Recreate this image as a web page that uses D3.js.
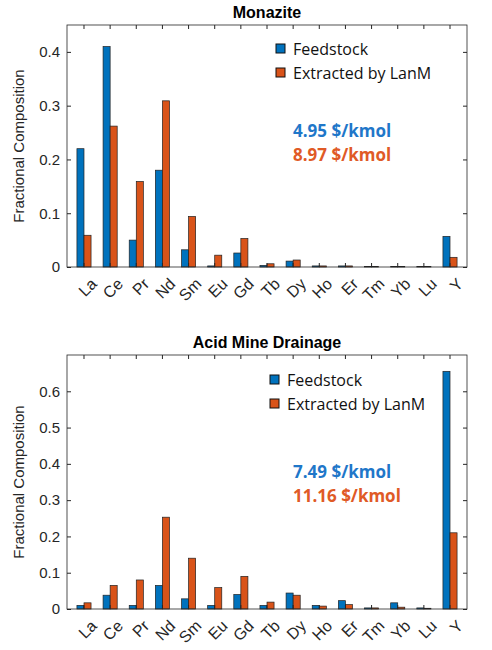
<!DOCTYPE html>
<html><head><meta charset="utf-8">
<script src="https://cdn.jsdelivr.net/npm/d3@7"></script>
<style>body{margin:0;background:#fff}</style>
</head><body><div id="chart"></div>
<script>
const elements = ["La","Ce","Pr","Nd","Sm","Eu","Gd","Tb","Dy","Ho","Er","Tm","Yb","Lu","Y"];
const seriesNames = ["Feedstock", "Extracted by LanM"];
const monaziteFeed = [0.22,0.41,0.05,0.18,0.032,0.002,0.026,0.003,0.011,0.002,0.002,0.001,0.001,0.001,0.057];
const monaziteExtr = [0.059,0.262,0.159,0.309,0.094,0.022,0.053,0.006,0.013,0.002,0.002,0.001,0.001,0.001,0.018];
const amdFeed = [0.01,0.038,0.01,0.065,0.028,0.01,0.04,0.01,0.044,0.01,0.023,0.003,0.017,0.003,0.655];
const amdExtr = [0.017,0.065,0.08,0.253,0.14,0.059,0.09,0.019,0.038,0.008,0.012,0.003,0.005,0.002,0.21];
const monaziteTicks = [0, 0.1, 0.2, 0.3, 0.4];
const amdTicks = [0, 0.1, 0.2, 0.3, 0.4, 0.5, 0.6];
const monaziteCost = ["4.95 $/kmol", "8.97 $/kmol"];
const amdCost = ["7.49 $/kmol", "11.16 $/kmol"];

const colors = ["#0072BD", "#D95319"];
const textColors = ["#1f77c9", "#e05a26"];
const font = "Liberation Sans, Arial, sans-serif";

const svg = d3.select("#chart").append("svg").attr("width", 492).attr("height", 650);

// Draw one panel of the figure
const drawPanel = (opt) => {
    const { title, feed, extr, ticks, yMax, cost, top, bottom, legendX, legendY, costY } = opt;
    const left = 67, right = 467;
    const x = d3.scaleBand().domain(elements).range([left, right]).paddingInner(0.46).paddingOuter(0.38);
    const sub = d3.scaleBand().domain([0, 1]).range([0, x.bandwidth()]).padding(0);
    const y = d3.scaleLinear().domain([0, yMax]).range([bottom, top]);
    const g = svg.append("g");

    g.append("text").attr("x", (left + right) / 2).attr("y", top - 7).attr("text-anchor", "middle")
        .attr("font-family", font).attr("font-weight", "bold").attr("font-size", 16).text(title);

    // bars
    [feed, extr].forEach((vals, s) => {
        g.append("g").selectAll("rect").data(vals).join("rect")
            .attr("x", (d, i) => x(elements[i]) + sub(s))
            .attr("width", sub.bandwidth())
            .attr("y", d => y(d))
            .attr("height", d => bottom - y(d))
            .attr("fill", colors[s]).attr("stroke", "#222").attr("stroke-width", 0.7);
    });

    // y axis
    const ya = g.append("g").attr("transform", `translate(${left},0)`)
        .call(d3.axisLeft(y).tickValues(ticks).tickSize(-4).tickPadding(7).tickFormat(d3.format("~g")));
    ya.select(".domain").remove();
    ya.selectAll("text").attr("font-family", font).attr("font-size", 15).attr("fill", "#262626");
    ya.selectAll("line").attr("stroke", "#262626");
    g.append("g").attr("transform", `translate(${right},0)`)
        .call(d3.axisRight(y).tickValues(ticks).tickSize(-4).tickFormat(""))
        .call(a => a.select(".domain").remove()).selectAll("line").attr("stroke", "#262626");

    // x axis, labels drawn rotated
    const xa = g.append("g").attr("transform", `translate(0,${bottom})`)
        .call(d3.axisBottom(x).tickSize(-4).tickFormat(""));
    xa.select(".domain").remove();
    xa.selectAll("line").attr("stroke", "#262626");
    g.append("g").selectAll("text").data(elements).join("text")
        .attr("transform", d => `translate(${x(d) + x.bandwidth() / 2 + 6},${bottom + 10}) rotate(-45)`)
        .attr("text-anchor", "end").attr("dy", "0.7em")
        .attr("font-family", font).attr("font-size", 16).attr("fill", "#262626").text(d => d);
    g.append("g").attr("transform", `translate(0,${top})`)
        .call(d3.axisTop(x).tickSize(-4).tickFormat(""))
        .call(a => a.select(".domain").remove()).selectAll("line").attr("stroke", "#262626");

    g.append("rect").attr("x", left).attr("y", top).attr("width", right - left).attr("height", bottom - top)
        .attr("fill", "none").attr("stroke", "#262626").attr("stroke-width", 0.8);

    g.append("text").attr("transform", `translate(24,${(top + bottom) / 2}) rotate(-90)`)
        .attr("text-anchor", "middle").attr("font-family", font).attr("font-size", 15).attr("fill", "#262626")
        .text("Fractional Composition");

    // legend
    seriesNames.forEach((n, s) => {
        g.append("rect").attr("x", legendX).attr("y", legendY + s * 24 - 5).attr("width", 9).attr("height", 9)
            .attr("fill", colors[s]).attr("stroke", "#111").attr("stroke-width", 1);
        g.append("text").attr("x", legendX + 17).attr("y", legendY + s * 24).attr("dy", "0.35em")
            .attr("font-family", "Open Sans, sans-serif").attr("font-size", 16).attr("fill", "#111").text(n);
    });

    cost.forEach((c, s) => {
        g.append("text").attr("x", 293).attr("y", costY + s * 24).attr("dy", "0.35em")
            .attr("font-family", "Open Sans, sans-serif").attr("font-weight", "bold").attr("font-size", 17)
            .attr("fill", textColors[s]).text(c);
    });
};

drawPanel({ title: "Monazite", feed: monaziteFeed, extr: monaziteExtr, ticks: monaziteTicks, yMax: 0.45,
    cost: monaziteCost, top: 25, bottom: 267, legendX: 276, legendY: 49, costY: 131 });
drawPanel({ title: "Acid Mine Drainage", feed: amdFeed, extr: amdExtr, ticks: amdTicks, yMax: 0.7,
    cost: amdCost, top: 355, bottom: 609, legendX: 270, legendY: 380, costY: 472 });
</script></body></html>
